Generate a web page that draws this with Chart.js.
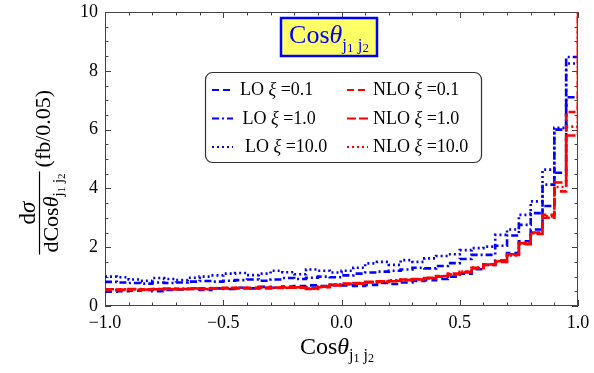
<!DOCTYPE html>
<html>
<head>
<meta charset="utf-8">
<script src="https://cdn.jsdelivr.net/npm/chart.js@4.4.1/dist/chart.umd.min.js"></script>
<style>
  html, body { margin: 0; padding: 0; background: #fff; }
  canvas { display: block; }
</style>
</head>
<body>
<canvas id="cosChart" width="594" height="373"></canvas>
<script>
// ================================
// DATA – dσ/dCosθ(j1 j2) in fb per 0.05 bin
// ================================
const binLeft = [
  -1.00, -0.95, -0.90, -0.85, -0.80, -0.75, -0.70, -0.65, -0.60, -0.55,
  -0.50, -0.45, -0.40, -0.35, -0.30, -0.25, -0.20, -0.15, -0.10, -0.05,
   0.00,  0.05,  0.10,  0.15,  0.20,  0.25,  0.30,  0.35,  0.40,  0.45,
   0.50,  0.55,  0.60,  0.65,  0.70,  0.75,  0.80,  0.85,  0.90,  0.95
];
const lastEdge = 1.0;

const lo01 = [
  0.49, 0.50, 0.52, 0.55, 0.50, 0.55, 0.56, 0.58, 0.55, 0.60,
  0.58, 0.62, 0.60, 0.65, 0.62, 0.66, 0.68, 0.70, 0.68, 0.72,
  0.70, 0.68, 0.72, 0.78, 0.75, 0.80, 0.85, 0.88, 0.92, 1.00,
  1.10, 1.25, 1.40, 1.55, 1.80, 2.20, 2.60, 3.40, 4.53, 7.10
];
const lo1 = [
  0.82, 0.80, 0.78, 0.76, 0.80, 0.78, 0.80, 0.83, 0.85, 0.83,
  0.86, 0.88, 0.90, 0.86, 0.90, 0.95, 0.92, 0.96, 1.00, 0.98,
  1.04, 1.10, 1.14, 1.17, 1.20, 1.24, 1.30, 1.28, 1.36, 1.46,
  1.60, 1.74, 1.74, 2.05, 2.40, 2.76, 3.16, 4.13, 6.00, 8.47
];
const lo10 = [
  1.00, 0.98, 0.90, 0.86, 0.95, 0.92, 0.88, 0.96, 1.00, 1.04,
  1.10, 1.12, 1.05, 1.10, 1.20, 1.15, 1.08, 1.24, 1.20, 1.14,
  1.20, 1.30, 1.45, 1.50, 1.40, 1.56, 1.50, 1.62, 1.70, 1.76,
  1.90, 1.97, 2.02, 2.42, 2.60, 3.10, 3.56, 4.64, 6.06, 8.25
];
const nlo01 = [
  0.55, 0.56, 0.55, 0.57, 0.58, 0.57, 0.58, 0.60, 0.58, 0.60,
  0.60, 0.61, 0.62, 0.60, 0.63, 0.62, 0.64, 0.58, 0.64, 0.72,
  0.74, 0.78, 0.80, 0.82, 0.86, 0.88, 0.90, 0.96, 1.00, 1.08,
  1.16, 1.30, 1.42, 1.52, 1.74, 2.10, 2.45, 3.10, 3.90, 6.60
];
const nlo1 = [
  0.57, 0.55, 0.58, 0.56, 0.57, 0.59, 0.57, 0.58, 0.60, 0.59,
  0.62, 0.60, 0.60, 0.63, 0.61, 0.64, 0.62, 0.60, 0.66, 0.70,
  0.76, 0.76, 0.82, 0.84, 0.84, 0.90, 0.92, 0.94, 1.02, 1.10,
  1.14, 1.28, 1.40, 1.50, 1.76, 2.14, 2.50, 3.00, 4.20, 5.80
];
const nlo10 = [
  0.54, 0.57, 0.56, 0.55, 0.58, 0.58, 0.59, 0.59, 0.57, 0.61,
  0.61, 0.62, 0.61, 0.62, 0.62, 0.63, 0.63, 0.59, 0.65, 0.73,
  0.75, 0.77, 0.81, 0.83, 0.87, 0.89, 0.91, 0.95, 1.01, 1.06,
  1.17, 1.31, 1.41, 1.53, 1.72, 2.12, 2.48, 3.05, 4.05, 6.10
];
// NLO curves shoot off the top at Cosθ = 1
const nloAtOne = [12, 12, 12];

const xTickValues = [-1, -0.5, 0, 0.5, 1];
const yTickValues = [0, 2, 4, 6, 8, 10];

// ================================
// STYLES
// ================================
const SERIF = "'Liberation Serif', 'DejaVu Serif', serif";
const BLUE = "#0000ff";
const RED = "#ff0000";
const DASH = [7, 4];
const DASH_LONG = [9, 3];
const DASH_DOT = [7, 3, 2, 3];
const DOT = [2, 3];

const series = [
  { name: "NLO", xi: "0.1",  values: nlo01, end: nloAtOne[0], color: RED,  dash: DASH },
  { name: "NLO", xi: "1.0",  values: nlo1,  end: nloAtOne[1], color: RED,  dash: DASH_LONG },
  { name: "NLO", xi: "10.0", values: nlo10, end: nloAtOne[2], color: RED,  dash: DOT },
  { name: "LO",  xi: "0.1",  values: lo01,  end: null,        color: BLUE, dash: DASH },
  { name: "LO",  xi: "1.0",  values: lo1,   end: null,        color: BLUE, dash: DASH_DOT },
  { name: "LO",  xi: "10.0", values: lo10,  end: null,        color: BLUE, dash: DOT }
];

// histogram -> step points (left edges + closing point at x = 1)
function stepPoints(values, end) {
  const pts = binLeft.map((x, i) => ({ x: x, y: values[i] }));
  pts.push({ x: lastEdge, y: values[values.length - 1] });
  if (end !== null) pts.push({ x: lastEdge, y: end });
  return pts;
}

// ================================
// TEXT HELPERS
// ================================
function runsWidth(ctx, runs) {
  let w = 0;
  runs.forEach(r => { ctx.font = r.font; w += ctx.measureText(r.t).width; });
  return w;
}
function drawRuns(ctx, runs, x, y) {
  runs.forEach(r => {
    ctx.font = r.font;
    ctx.fillText(r.t, x, y + (r.dy || 0));
    x += ctx.measureText(r.t).width;
  });
  return x;
}
function cosTheta(size, subSize, digSize) {
  return [
    { t: "Cos", font: size + "px " + SERIF },
    { t: "θ", font: "italic " + size + "px " + SERIF },
    { t: "j", font: subSize + "px " + SERIF, dy: size * 0.25 },
    { t: "1", font: digSize + "px " + SERIF, dy: size * 0.33 },
    { t: " j", font: subSize + "px " + SERIF, dy: size * 0.25 },
    { t: "2", font: digSize + "px " + SERIF, dy: size * 0.33 }
  ];
}

// ================================
// FRAME, TICKS, TITLES, LEGEND
// ================================
const decorations = {
  id: "decorations",
  beforeDatasetsDraw(chart) {
    const { ctx, chartArea: a, scales: { x, y } } = chart;
    ctx.save();
    ctx.strokeStyle = "#444";
    ctx.lineWidth = 1;
    ctx.strokeRect(a.left + 0.5, a.top + 0.5, a.right - a.left - 1, a.bottom - a.top - 1);

    ctx.beginPath();
    for (let i = -10; i <= 10; i++) {
      const px = Math.round(x.getPixelForValue(i / 10)) + 0.5;
      const len = i % 5 === 0 ? 6 : 3.5;
      ctx.moveTo(px, a.bottom); ctx.lineTo(px, a.bottom - len);
      ctx.moveTo(px, a.top); ctx.lineTo(px, a.top + len);
    }
    for (let i = 0; i <= 20; i++) {
      const py = Math.round(y.getPixelForValue(i / 2)) + 0.5;
      const len = i % 4 === 0 ? 6 : 3.5;
      ctx.moveTo(a.left, py); ctx.lineTo(a.left + len, py);
      ctx.moveTo(a.right, py); ctx.lineTo(a.right - len, py);
    }
    ctx.stroke();
    ctx.restore();
  },
  afterDraw(chart) {
    const { ctx } = chart;
    ctx.save();
    ctx.textBaseline = "alphabetic";
    ctx.fillStyle = "#000";

    // x axis title
    const xt = cosTheta(24, 16, 12);
    drawRuns(ctx, xt, 337 - runsWidth(ctx, xt) / 2, 354);

    // y axis title, rotated fraction
    ctx.save();
    ctx.translate(39.5, 213);
    ctx.rotate(-Math.PI / 2);
    const num = [
      { t: "d", font: "23px " + SERIF },
      { t: "σ", font: "italic 23px " + SERIF }
    ];
    const den = [{ t: "d", font: "22px " + SERIF }].concat(cosTheta(22, 15, 11));
    const dw = runsWidth(ctx, den);
    const nw = runsWidth(ctx, num);
    drawRuns(ctx, num, -nw / 2, -5);
    drawRuns(ctx, den, -dw / 2, 18);
    ctx.fillRect(-dw / 2 - 2, -0.6, dw + 4, 1.2);
    ctx.font = "22px " + SERIF;
    ctx.fillText("(fb/0.05)", dw / 2 + 6, 10);
    ctx.restore();

    // title box
    ctx.fillStyle = "#ffff66";
    ctx.fillRect(281, 18, 96, 38);
    ctx.strokeStyle = BLUE;
    ctx.lineWidth = 2.5;
    ctx.strokeRect(281, 18, 96, 38);
    ctx.fillStyle = BLUE;
    const tt = cosTheta(26, 17, 13);
    drawRuns(ctx, tt, 329 - runsWidth(ctx, tt) / 2, 43);

    // legend
    const lx = 205, ly = 72, lw = 276, lh = 90;
    ctx.beginPath();
    ctx.roundRect(lx + 0.5, ly + 0.5, lw, lh, 7);
    ctx.fillStyle = "#fff";
    ctx.fill();
    ctx.strokeStyle = "#333";
    ctx.lineWidth = 1.2;
    ctx.stroke();

    const rows = [95, 123.5, 152];
    const cols = [
      { line: [212, 233], text: 240, kind: "LO" },
      { line: [347, 368], text: 373, kind: "NLO" }
    ];
    cols.forEach(col => {
      series.filter(s => s.name === col.kind).forEach((s, i) => {
        const by = rows[i];
        ctx.save();
        ctx.strokeStyle = s.color;
        ctx.lineWidth = 2;
        ctx.setLineDash(s.dash);
        ctx.beginPath();
        ctx.moveTo(col.line[0], by - 5);
        ctx.lineTo(col.line[1], by - 5);
        ctx.stroke();
        ctx.restore();
        ctx.fillStyle = "#000";
        drawRuns(ctx, [
          { t: s.name + " ", font: "18px " + SERIF },
          { t: "ξ", font: "italic 18px " + SERIF },
          { t: " =" + s.xi, font: "18px " + SERIF }
        ], col.text + (col.kind === "LO" ? i * 2.5 : 0), by);
      });
    });
    ctx.restore();
  }
};

// ================================
// CREATE CHART
// ================================
const tickFont = { family: SERIF, size: 18 };

new Chart(document.getElementById("cosChart"), {
  type: "line",
  data: {
    datasets: series.map(s => ({
      label: s.name + " ξ=" + s.xi,
      data: stepPoints(s.values, s.end),
      borderColor: s.color,
      borderDash: s.dash,
      borderWidth: 2.6,
      pointRadius: 0,
      // horizontal at the bin value first, then the jump at the right edge
      stepped: "before",
      fill: false
    }))
  },
  options: {
    responsive: false,
    animation: false,
    layout: { padding: { top: 12, right: 16, left: 0, bottom: 0 } },
    plugins: { legend: { display: false }, tooltip: { enabled: false } },
    scales: {
      x: {
        type: "linear",
        min: -1,
        max: 1,
        afterBuildTicks: s => { s.ticks = xTickValues.map(v => ({ value: v })); },
        afterFit: s => { s.height = 67; s.paddingLeft = 0; s.paddingRight = 0; },
        grid: { display: false, drawTicks: false },
        border: { display: false },
        ticks: {
          padding: 6,
          color: "#000",
          font: tickFont,
          maxRotation: 0,
          autoSkip: false,
          callback: v => (v < 0 ? "−" : "") + Math.abs(v).toFixed(1)
        }
      },
      y: {
        type: "linear",
        min: 0,
        max: 10,
        afterBuildTicks: s => { s.ticks = yTickValues.map(v => ({ value: v })); },
        // the "10" label may sit above the frame
        afterFit: s => { s.width = 105; s.paddingTop = 0; s.paddingBottom = 0; },
        grid: { display: false, drawTicks: false },
        border: { display: false },
        ticks: { padding: 7, color: "#000", font: tickFont }
      }
    }
  },
  plugins: [decorations]
});
</script>
</body>
</html>
